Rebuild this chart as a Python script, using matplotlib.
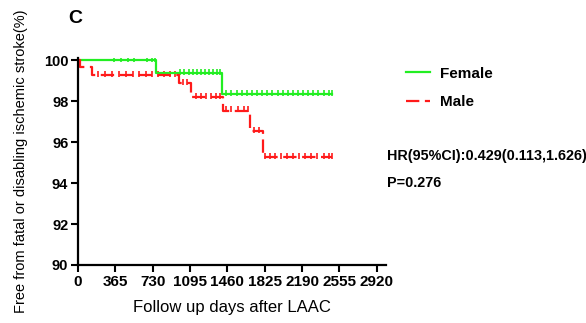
import numpy as np
import matplotlib.pyplot as plt

plt.rcParams['font.family'] = ['Liberation Sans', 'DejaVu Sans']

# Kaplan-Meier step points (days, survival %)
female_t = [0, 760, 1410, 2485]
female_s = [100.0, 99.35, 98.33, 98.33]
male_t = [0, 20, 140, 985, 1105, 1413, 1685, 1805, 2485]
male_s = [100.0, 99.67, 99.27, 98.86, 98.18, 97.53, 96.55, 95.25, 95.25]

# censored observations (days)
female_cens = [354, 420, 485, 547, 671, 723, 752,
               1000, 1040, 1080, 1120, 1160, 1200, 1240, 1280, 1320, 1360, 1390,
               1450, 1500, 1550, 1600, 1650, 1700, 1750, 1800, 1850, 1900, 1950,
               2000, 2050, 2100, 2150, 2200, 2250, 2300, 2350, 2400, 2450, 2480]
male_cens = [200, 260, 330, 400, 470, 540, 600, 660, 720, 780, 840, 900, 950,
             1030, 1070, 1150, 1200, 1250, 1300, 1350, 1390,
             1450, 1500, 1560, 1620, 1660, 1720, 1770,
             1830, 1880, 1930, 1980, 2040, 2100, 2160, 2220, 2280, 2340, 2400, 2450, 2480]

xticks = [0, 365, 730, 1095, 1460, 1825, 2190, 2555, 2920]
yticks = [90, 92, 94, 96, 98, 100]


def level_at(t_list, s_list, t):
    idx = np.searchsorted(t_list, t, side='right') - 1
    return s_list[idx]


fig = plt.figure(figsize=(5.86, 3.23), dpi=100)
ax = fig.add_axes([0.1331, 0.1796, 0.5256, 0.6408])

green = '#22ee22'
red = '#ff1a1a'

ax.step(female_t, female_s, where='post', color=green, linewidth=1.6, label='Female')
ax.step(male_t, male_s, where='post', color=red, linewidth=1.6,
        linestyle=(0, (6, 2.5)), label='Male')

fc_y = [level_at(female_t, female_s, t) for t in female_cens]
mc_y = [level_at(male_t, male_s, t) for t in male_cens]
ax.scatter(female_cens, np.array(fc_y) + 0.06, marker='|', s=14, color=green, linewidths=1.2)
ax.scatter(male_cens, np.array(mc_y) + 0.06, marker='|', s=14, color=red, linewidths=1.2)

ax.set_xlim(0, 3010)
ax.set_ylim(90, 100.1)
ax.set_xticks(xticks)
ax.set_yticks(yticks)
ax.set_xticklabels([str(x) for x in xticks], fontweight='bold', fontsize=11)
ax.set_yticklabels([str(y) for y in yticks], fontweight='bold', fontsize=10.5)
ax.tick_params(direction='out', length=5, width=1.5, pad=2)
for side in ['top', 'right']:
    ax.spines[side].set_visible(False)
for side in ['left', 'bottom']:
    ax.spines[side].set_linewidth(1.6)

ax.set_xlabel('Follow up days after LAAC', fontsize=12, labelpad=8)
ax.set_ylabel('Free from fatal or disabling ischemic stroke(%)', fontsize=10.5, labelpad=11)

fig.text(0.116, 0.93, 'C', fontsize=14, fontweight='bold')

leg = ax.legend(loc='upper left', bbox_to_anchor=(1.02, 1.025), frameon=False,
                handlelength=1.6, handletextpad=0.6, labelspacing=0.95,
                prop={'weight': 'bold', 'size': 11})

fig.text(0.661, 0.517, 'HR(95%CI):0.429(0.113,1.626)',
         fontsize=10.4, fontweight='bold', va='center')
fig.text(0.661, 0.434, 'P=0.276',
         fontsize=10.4, fontweight='bold', va='center')

fig.savefig('out.png', dpi=100)
